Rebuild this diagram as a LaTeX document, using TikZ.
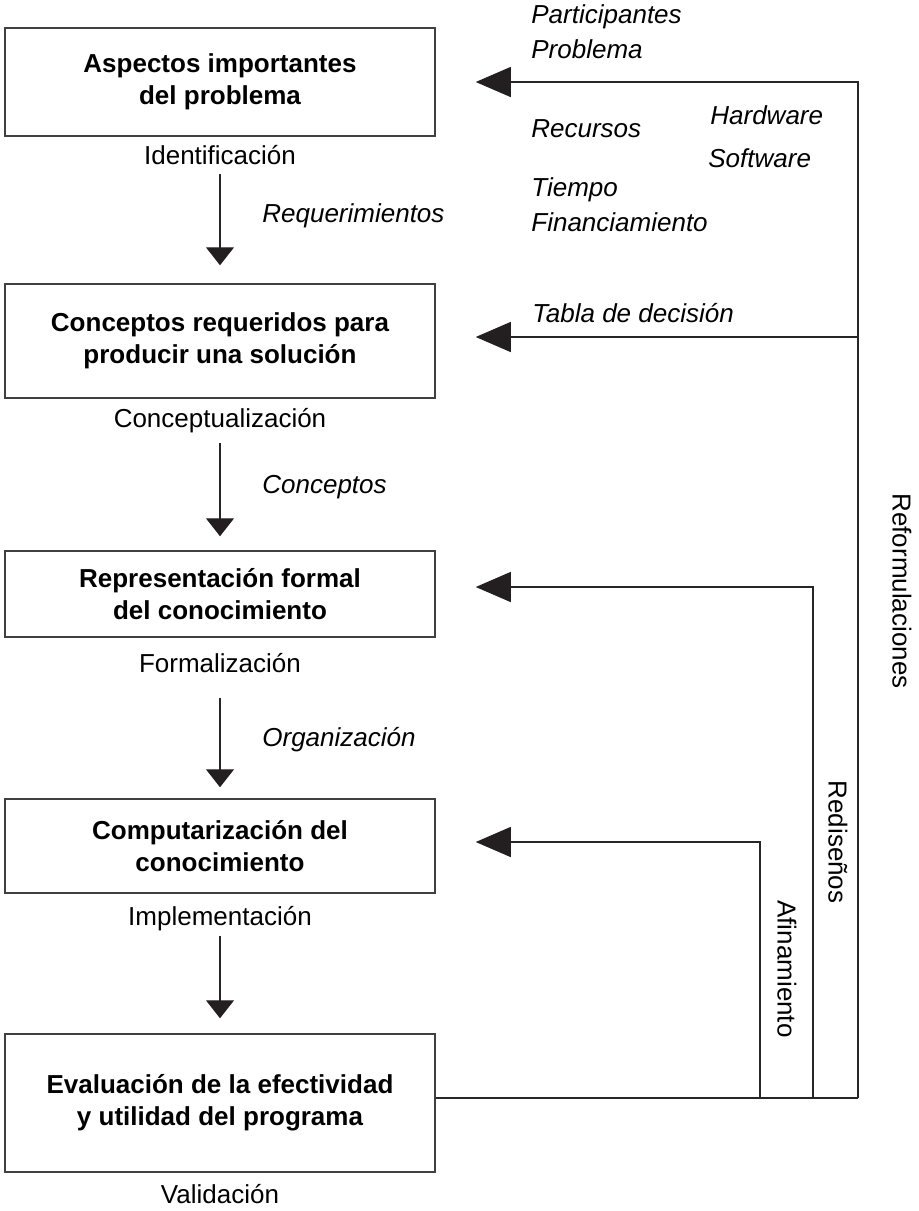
\documentclass[tikz,border=0pt]{standalone}
\usepackage{fontspec}
\setmainfont{Liberation Sans}
\usetikzlibrary{arrows.meta}
\definecolor{mdark}{RGB}{35,31,32}

\begin{document}
\begin{tikzpicture}[x=0.5pt, y=-0.5pt,
    every node/.style={inner sep=0pt, font=\fontsize{13}{16}\selectfont},
    stage/.style={draw=black!75, line width=0.75pt, minimum width=215pt, align=center,
                  font=\fontsize{13}{16}\selectfont\bfseries},
    flowlabel/.style={anchor=west, font=\fontsize{13}{16}\selectfont\itshape},
    looplabel/.style={rotate=-90},
    line/.style={draw=black!85, line width=0.6pt},
    downarrow/.style={line, -{Triangle[width=14pt, length=9pt, color=mdark]}},
    backarrow/.style={line, -{Triangle[width=15pt, length=17.5pt, color=mdark]}, shorten >=20pt},
]
\useasboundingbox (0,0) rectangle (919,1211);

% etapas
\node[stage, minimum height=54pt] (ident) at (220,82) {Aspectos importantes\\del problema};
\node[stage, minimum height=57pt] (concep) at (220,341) {Conceptos requeridos para\\producir una solución};
\node[stage, minimum height=43pt] (formal) at (220,594) {Representación formal\\del conocimiento};
\node[stage, minimum height=47pt] (comput) at (220,846) {Computarización del\\conocimiento};
\node[stage, minimum height=69pt] (valid) at (220,1103) {Evaluación de la efectividad\\y utilidad del programa};

\node (identlbl) at (220,155) {Identificación};
\node (conceplbl) at (220,421) {Conceptualización};
\node (formallbl) at (220,663) {Formalización};
\node (computlbl) at (220,919) {Implementación};
\node (validlbl) at (220,1194) {Validación};

\draw[downarrow, shorten <=4.5pt, shorten >=9pt] (identlbl) -- (concep);
\draw[downarrow, shorten <=4.5pt, shorten >=7pt] (conceplbl) -- (formal);
\draw[downarrow, shorten <=12.5pt, shorten >=5.5pt] (formallbl) -- (comput);
\draw[downarrow, shorten <=2pt, shorten >=7.5pt] (computlbl) -- (valid);

\node[flowlabel] (req) at (262,216) {Requerimientos};
\node[flowlabel] (conc) at (262,487) {Conceptos};
\node[flowlabel] (org) at (262,740) {Organización};

% textos de la derecha
\node[flowlabel] (part) at (531,17) {Participantes};
\node[flowlabel] (prob) at (531,49) {Problema};
\node[flowlabel] (recur) at (531,129) {Recursos};
\node[flowlabel] (hard) at (710,115) {Hardware};
\node[flowlabel] (soft) at (708,158) {Software};
\node[flowlabel] (tiempo) at (531,190) {Tiempo};
\node[flowlabel] (finan) at (531,222) {Financiamiento};
\node[flowlabel] (tabla) at (532,313) {Tabla de decisión};

% retroalimentacion
\coordinate (reftop) at (858,82);
\coordinate (refmid) at (858,337);
\coordinate (refbot) at (858,1098);
\coordinate (redtop) at (813,587);
\coordinate (redbot) at (813,1098);
\coordinate (afitop) at (760,842);
\coordinate (afibot) at (760,1098);

\draw[line] (refbot -| valid.east) -- (refbot);
\draw[backarrow] (refbot) -- (reftop) -- (reftop -| ident.east);
\draw[backarrow] (refmid) -- (refmid -| concep.east);
\draw[backarrow] (redbot) -- (redtop) -- (redtop -| formal.east);
\draw[backarrow] (afibot) -- (afitop) -- (afitop -| comput.east);

\node[looplabel] (reform) at (902,591) {Reformulaciones};
\node[looplabel] (redis) at (838,842) {Rediseños};
\node[looplabel] (afin) at (787,969) {Afinamiento};

\end{tikzpicture}
\end{document}
